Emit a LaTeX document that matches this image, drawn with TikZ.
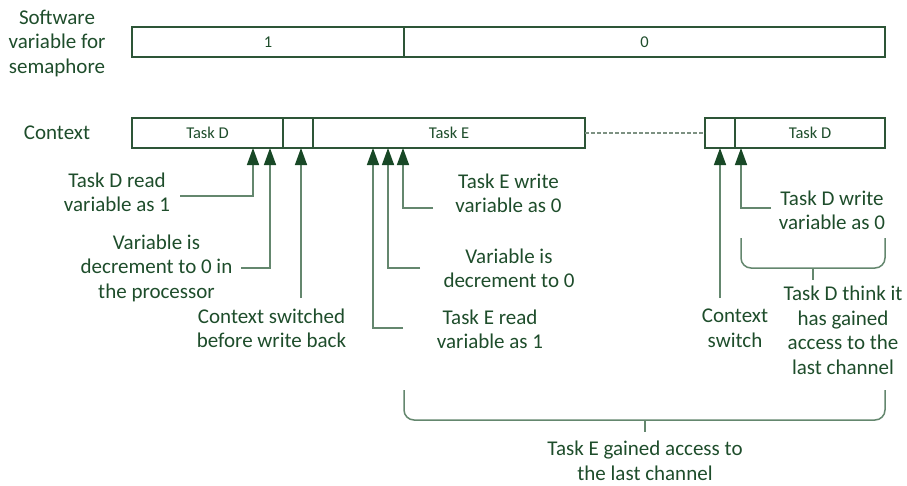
\documentclass[tikz,border=0pt]{standalone}
\usepackage{fontspec}
\setmainfont{Carlito}
\usepackage{xcolor}
\usetikzlibrary{positioning, arrows.meta}

\definecolor{txtgreen}{RGB}{30,77,43}
\definecolor{boxgreen}{RGB}{45,85,55}
\definecolor{linegreen}{RGB}{100,135,110}
\definecolor{dashgreen}{RGB}{125,145,130}
\definecolor{tipgreen}{RGB}{24,72,38}

\begin{document}
\begin{tikzpicture}[
        x=1pt, y=-1pt,
        every node/.style={text=txtgreen, align=center, font=\fontsize{21pt}{24.5pt}\selectfont},
        slot/.style={rectangle, draw=boxgreen, line width=1.3pt, outer sep=0pt, inner sep=0pt, minimum height=30pt, font=\fontsize{16.5pt}{20pt}\selectfont},
        pointer/.style={draw=linegreen, line width=1.5pt, -{Triangle[length=17pt, width=12pt, color=tipgreen]}},
        bracket/.style={draw=linegreen, line width=1.5pt, rounded corners=10pt},
    ]
        \useasboundingbox (0,0) rectangle (907,485);

        % Row labels
        \node (semlbl) at (57,43) {Software\\variable for\\semaphore};
        \node (ctxlbl) at (57,133) {Context};

        % Semaphore variable
        \node[slot, minimum width=272pt] (sem1) at (268,42) {1};
        \node[slot, minimum width=481pt, right=0pt of sem1] (sem0) {0};

        % Context row
        \node[slot, minimum width=151pt] (ctxD) at (207.5,133) {Task D};
        \node[slot, minimum width=30pt, right=0pt of ctxD] (sw1) {};
        \node[slot, minimum width=272pt, right=0pt of sw1] (ctxE) {Task E};
        \node[slot, minimum width=30pt] (sw2) at (720,133) {};
        \node[slot, minimum width=150pt, right=0pt of sw2] (ctxDb) {Task D};
        \draw[dashgreen, line width=1.3pt, dash pattern=on 4pt off 2pt] (ctxE) -- (sw2);

        % Arrow tips and free ends
        \coordinate (t1) at (253,148);  \coordinate (f1) at (180,196);
        \coordinate (t2) at (270,148);  \coordinate (f2) at (241,268);
        \coordinate (t3) at (301,148);  \coordinate (f3) at (301,298);
        \coordinate (t4) at (373,148);  \coordinate (f4) at (403,328);
        \coordinate (t5) at (388,148);  \coordinate (f5) at (420,268);
        \coordinate (t6) at (403,148);  \coordinate (f6) at (433,208);
        \coordinate (t7) at (720,148);  \coordinate (f7) at (720,298);
        \coordinate (t8) at (741,148);  \coordinate (f8) at (771,208);

        % Events
        \node (readD) at (117,192.5) {Task D read\\variable as 1};
        \node (decD) at (156.5,268) {Variable is\\decrement to 0 in\\the processor};
        \node (swback) at (271.5,328.5) {Context switched\\before write back};
        \node (readE) at (490,329.5) {Task E read\\variable as 1};
        \node (decE) at (509,268.5) {Variable is\\decrement to 0};
        \node (writeE) at (508.5,193.5) {Task E write\\variable as 0};
        \node (swctx) at (735,328.5) {Context\\switch};
        \node (writeD) at (832,210.5) {Task D write\\variable as 0};

        % Arrows
        \draw[pointer] (f1) -| (t1);
        \draw[pointer] (f2) -| (t2);
        \draw[pointer] (f3) -- (t3);
        \draw[pointer] (f4) -| (t4);
        \draw[pointer] (f5) -| (t5);
        \draw[pointer] (f6) -| (t6);
        \draw[pointer] (f7) -- (t7);
        \draw[pointer] (f8) -| (t8);

        % Brackets
        \draw[bracket] (741,238) -- (741,268) -- (885,268) -- (885,238);
        \draw[bracket] (813,268) -- (813,280);
        \node (thinkD) at (843,330.5) {Task D think it\\has gained\\access to the\\last channel};
        \draw[bracket] (404,390) -- (404,420) -- (885,420) -- (885,390);
        \draw[bracket] (645,420) -- (645,432);
        \node (gainE) at (645,461) {Task E gained access to\\the last channel};
    \end{tikzpicture}
\end{document}
